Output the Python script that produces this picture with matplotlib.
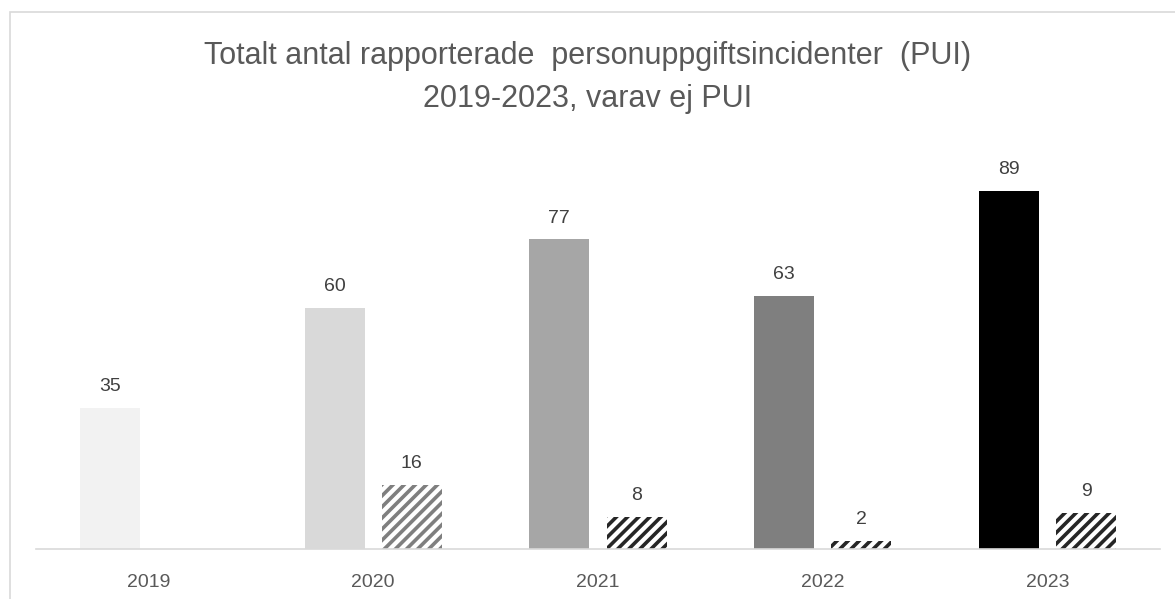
import matplotlib
matplotlib.use("Agg")
import matplotlib.pyplot as plt
import numpy as np
from matplotlib.patches import Rectangle

plt.rcParams["font.family"] = ["Liberation Sans", "DejaVu Sans"]
plt.rcParams["hatch.linewidth"] = 2.6

years = ["2019", "2020", "2021", "2022", "2023"]
total_pui = [35, 60, 77, 63, 89]
ej_pui = [None, 16, 8, 2, 9]

BAR_COLORS = ["#f2f2f2", "#d9d9d9", "#a6a6a6", "#7f7f7f", "#000000"]
HATCH_COLORS = [None, "#7f7f7f", "#262626", "#262626", "#262626"]

fig = plt.figure(figsize=(11.75, 5.99), dpi=100)
ax = fig.add_axes([36 / 1175, 1 - 549 / 599, (1160 - 36) / 1175, 402 / 599])

# outer chart border (light gray, cut off at right/bottom like the screenshot)
fig.patches.append(Rectangle((10 / 1175, -0.1), 1.2, 1 - 12 / 599 + 0.1,
                             transform=fig.transFigure, fill=False,
                             edgecolor="#d9d9d9", linewidth=1.2, zorder=0))

x = np.arange(len(years))
w = 0.267
off = 0.172

for i, v in enumerate(total_pui):
    ax.bar(x[i] - off, v, width=w, color=BAR_COLORS[i], linewidth=0, zorder=2)
    ax.text(x[i] - off, v + 3.2, str(v), ha="center", va="bottom",
            fontsize=14, color="#404040")

for i, v in enumerate(ej_pui):
    if v is None:
        continue
    ax.bar(x[i] + off, v, width=w, facecolor="white", edgecolor=HATCH_COLORS[i],
           hatch="///", linewidth=0, zorder=2)
    ax.text(x[i] + off, v + 3.2, str(v), ha="center", va="bottom",
            fontsize=14, color="#404040")

ax.set_xlim(-0.5, len(years) - 0.5)
ax.set_ylim(0, 100)
ax.set_xticks(x)
ax.set_xticklabels(years, fontsize=14, color="#595959")
ax.tick_params(axis="x", length=0, pad=18)
ax.set_yticks([])
for s in ["top", "right", "left"]:
    ax.spines[s].set_visible(False)
ax.spines["bottom"].set_color("#d9d9d9")
ax.spines["bottom"].set_linewidth(1.2)
ax.spines["bottom"].set_zorder(3)

fig.text(0.5, 1 - 56 / 599, "Totalt antal rapporterade  personuppgiftsincidenter  (PUI)",
         ha="center", va="center", fontsize=22, color="#595959")
fig.text(0.5, 1 - 99 / 599, "2019-2023, varav ej PUI",
         ha="center", va="center", fontsize=22, color="#595959")

fig.savefig("out.png", dpi=100)
